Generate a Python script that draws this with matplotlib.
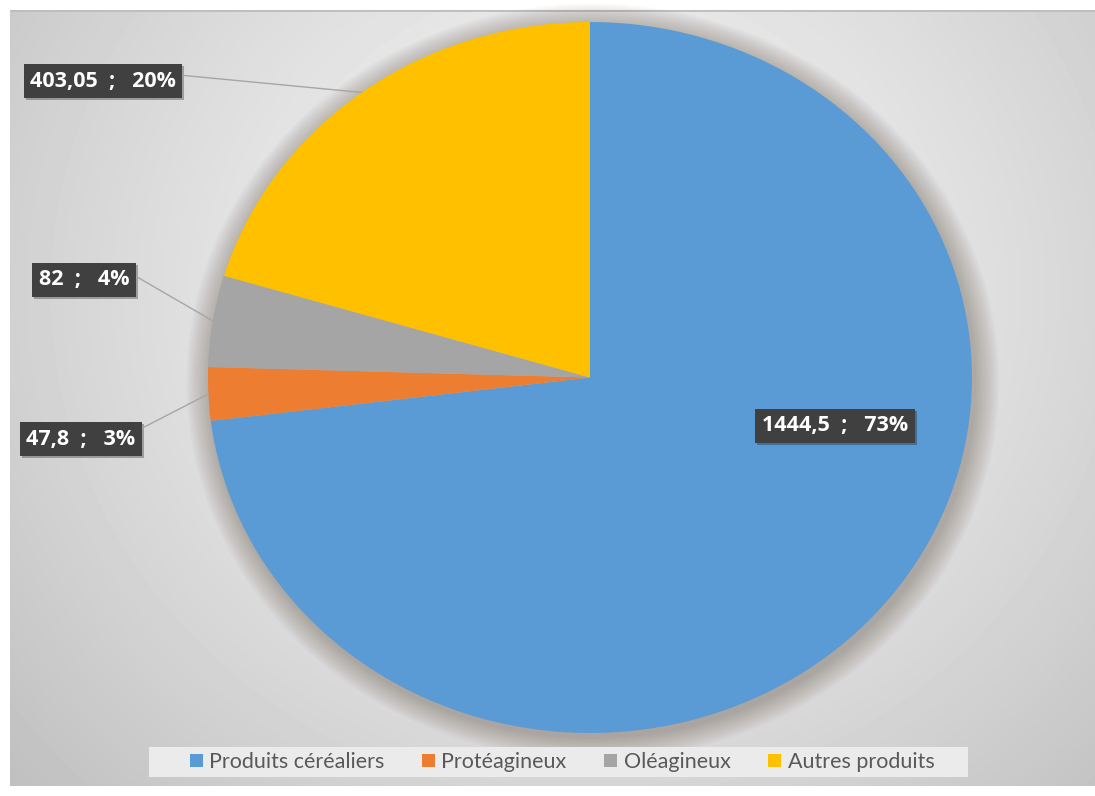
import numpy as np
import matplotlib
import matplotlib.pyplot as plt
from matplotlib.patches import Ellipse, Patch, Rectangle
from matplotlib.transforms import offset_copy

matplotlib.use("agg")

# data
categories = ["Produits céréaliers", "Protéagineux", "Oléagineux", "Autres produits"]
values = [1444.5, 47.8, 82, 403.05]
value_text = ["1444,5", "47,8", "82", "403,05"]
percent_text = ["73%", "3%", "4%", "20%"]
colors = ["#5b9bd5", "#ed7d31", "#a5a5a5", "#ffc000"]

W, H = 1095, 796
fig = plt.figure(figsize=(W / 100, H / 100), dpi=100, facecolor="white")

# grey radial backdrop
bg = fig.add_axes([10 / W, 10 / H, 1085 / W, 776 / H])
yy, xx = np.mgrid[0:776, 0:1085]
dist = np.hypot(xx - 575, (yy - 280) * 1.05) / 760
shade = np.clip(0.965 - 0.21 * dist ** 1.3, 0.74, 1)
bg.imshow(shade, cmap="gray", vmin=0, vmax=1, aspect="auto", interpolation="bilinear")
bg.axis("off")
bg.axhline(-0.5, color="#bdbdbd", lw=2)

# pie (stretched horizontally, as in the sheet)
ax = fig.add_axes([208 / W, 63 / H, 764 / W, 711 / H])
for k in range(16):
    r = 1.0 + 0.004 * (k + 1)
    ax.add_patch(Ellipse((0.007, -0.012), 2 * r, 2 * r, color="#5a4a3a",
                         alpha=0.025, lw=0, zorder=0, clip_on=False))
wedges, _ = ax.pie(values, colors=colors, startangle=90, counterclock=False,
                   wedgeprops=dict(linewidth=0))
for w in wedges:
    w.set_zorder(2)
ax.set_aspect("auto")
ax.set_xlim(-1, 1)
ax.set_ylim(-1, 1)
ax.axis("off")

# data labels: box centre in pixels, and where the leader leaves the box
label_pos = [(835, 426), (81, 439), (84, 280), (103, 81)]
leader_rel = [None, (1.0, 0.86), (1.0, 0.86), (1.0, 0.8)]
label_font = dict(fontsize=15.5, fontweight="bold", family="Open Sans")
shadow_tr = offset_copy(fig.transFigure, fig=fig, x=2, y=-2, units="dots")

for w, val, pct, pos, rel in zip(wedges, value_text, percent_text, label_pos, leader_rel):
    mid = np.deg2rad((w.theta1 + w.theta2) / 2)
    txt = f"{val}  ;   {pct}"
    xy_fig = (pos[0], H - pos[1])
    ax.text(xy_fig[0] / W, xy_fig[1] / H, txt, transform=shadow_tr,
            ha="center", va="center", color="none", zorder=4, clip_on=False,
            **label_font,
            bbox=dict(boxstyle="square,pad=0.3", fc="black", ec="none", alpha=0.28))
    props = None
    if rel is not None:
        props = dict(arrowstyle="-", color="#a6a6a6", lw=1, relpos=rel,
                     shrinkA=0, shrinkB=0)
    ax.annotate(txt, xy=(np.cos(mid), np.sin(mid)), xycoords="data",
                xytext=xy_fig, textcoords="figure pixels",
                ha="center", va="center", color="white", zorder=5,
                annotation_clip=False, **label_font,
                bbox=dict(boxstyle="square,pad=0.3", fc="#404040", ec="none"),
                arrowprops=props)

# legend strip
fig.patches.append(Rectangle((149 / W, 1 - 777 / H), 819 / W, 30 / H,
                             transform=fig.transFigure, fc="#ebebeb", ec="none",
                             zorder=3))
handles = [Patch(facecolor=c, edgecolor="none") for c in colors]
leg = fig.legend(handles, categories, ncol=4, loc="center",
                 bbox_to_anchor=(562 / W, 1 - 762 / H), frameon=False,
                 prop={"family": "Lato", "size": 15.5},
                 handlelength=0.6, handleheight=0.6, handletextpad=0.3,
                 columnspacing=1.75, borderpad=0.2, borderaxespad=0)
leg.set_zorder(4)
for t in leg.get_texts():
    t.set_color("#595959")

fig.savefig("out.png", dpi=100)
